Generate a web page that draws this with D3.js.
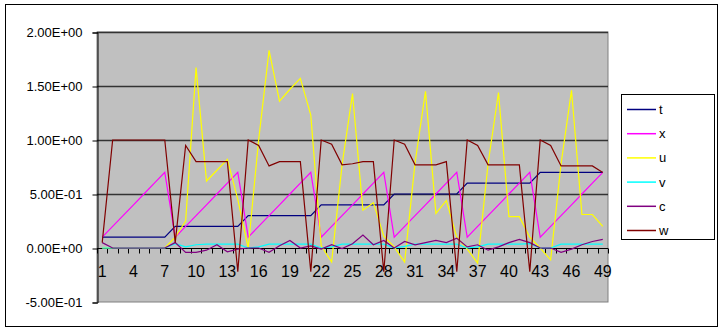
<!DOCTYPE html>
<html>
<head>
<meta charset="utf-8">
<script src="https://cdn.jsdelivr.net/npm/d3@7"></script>
<style>
  body { margin: 0; background: #fff; }
  text { font-family: "Liberation Sans", Arial, sans-serif; }
</style>
</head>
<body>
<svg id="chart"></svg>
<script>
let width = 723;
let height = 332;

// categories 1..49
let cats = d3.range(1, 50);

let t = [0.1,0.1,0.1,0.1,0.1,0.1,0.1,
         0.2,0.2,0.2,0.2,0.2,0.2,0.2,
         0.3,0.3,0.3,0.3,0.3,0.3,0.3,
         0.4,0.4,0.4,0.4,0.4,0.4,0.4,
         0.5,0.5,0.5,0.5,0.5,0.5,0.5,
         0.6,0.6,0.6,0.6,0.6,0.6,0.6,
         0.7,0.7,0.7,0.7,0.7,0.7,0.7];
let x = [0.1,0.2,0.3,0.4,0.5,0.6,0.7,
         0.1,0.2,0.3,0.4,0.5,0.6,0.7,
         0.1,0.2,0.3,0.4,0.5,0.6,0.7,
         0.1,0.2,0.3,0.4,0.5,0.6,0.7,
         0.1,0.2,0.3,0.4,0.5,0.6,0.7,
         0.1,0.2,0.3,0.4,0.5,0.6,0.7,
         0.1,0.2,0.3,0.4,0.5,0.6,0.7];
let u = [0,0,0,0,0,0,0,
         0.1,0.25,1.67,0.62,0.72,0.82,0.45,
         0,1.0,1.83,1.36,1.47,1.57,1.23,
         0.02,-0.13,0.77,1.43,0.35,0.42,0.11,
         0.01,-0.13,0.79,1.45,0.32,0.44,0.1,
         -0.01,-0.14,0.78,1.44,0.29,0.29,0.1,
         0,-0.11,0.78,1.46,0.31,0.31,0.2];
let v = [0,0,0,0,0,0,0,
         0.04,0.01,0.03,0.035,0.035,0.035,0.035,
         0,0.01,0.035,0.035,0.035,0.035,0.035,
         0,0.01,0.035,0.035,0.035,0.035,0.035,
         0,0.015,0.035,0.035,0.035,0.035,0.035,
         0,0.01,0.035,0.035,0.035,0.035,0.04,
         0,0,0.035,0.035,0.035,0.035,0.035];
let c = [0.05,0,0,0,0,0,0,
         0.05,-0.04,-0.04,-0.02,0.03,-0.035,-0.01,
         0,0,-0.04,0.02,0.07,0,0.02,
         -0.01,0.03,-0.005,0.04,0.12,0.03,0.07,
         0,0.06,0.03,0.05,0.07,0.05,0.09,
         0.01,0.03,-0.02,0.01,0.05,0.08,0.05,
         0,0,-0.04,-0.01,0.03,0.06,0.08];
let w = [0.05,1,1,1,1,1,1,
         0.05,0.95,0.8,0.8,0.8,0.8,-0.22,
         1,0.95,0.76,0.8,0.8,0.8,-0.22,
         1,0.96,0.77,0.78,0.8,0.8,-0.22,
         1,0.96,0.77,0.77,0.77,0.8,-0.22,
         1,0.95,0.77,0.77,0.77,0.77,-0.22,
         1,0.95,0.76,0.76,0.76,0.76,0.7];

let seriesNames = ["t", "x", "u", "v", "c", "w"];
let seriesData = [t, x, u, v, c, w];
let colors = ["#000080", "#ff00ff", "#ffff00", "#00ffff", "#800080", "#800000"];

let yTicks = [-0.5, 0, 0.5, 1.0, 1.5, 2.0];
let yLabels = ["-5.00E-01", "0.00E+00", "5.00E-01", "1.00E+00", "1.50E+00", "2.00E+00"];
let xLabelCats = [1, 4, 7, 10, 13, 16, 19, 22, 25, 28, 31, 34, 37, 40, 43, 46, 49];

let plot = {left: 97, right: 608, top: 32, bottom: 302};

let svg = d3.select("#chart")
  .attr("width", width)
  .attr("height", height);

// outer chart frame
svg.append("rect")
  .attr("x", 5.5).attr("y", 4.5)
  .attr("width", 712).attr("height", 322)
  .attr("fill", "#fff")
  .attr("stroke", "#000");

let xb = d3.scaleBand()
  .domain(cats)
  .range([plot.left, plot.right])
  .padding(0);

let yax = d3.scaleLinear()
  .domain([-0.5, 2.0])
  .range([plot.bottom, plot.top]);

// plot area
svg.append("rect")
  .attr("x", plot.left).attr("y", plot.top)
  .attr("width", plot.right - plot.left)
  .attr("height", plot.bottom - plot.top)
  .attr("fill", "#c0c0c0")
  .attr("stroke", "#808080");

// gridlines
svg.append("g")
  .selectAll("line")
  .data(yTicks.filter(d => d != 0 && d != -0.5))
  .enter()
    .append("line")
    .attr("x1", plot.left).attr("x2", plot.right)
    .attr("y1", d => Math.round(yax(d)) + 0.5)
    .attr("y2", d => Math.round(yax(d)) + 0.5)
    .attr("stroke", "#333")
    .attr("stroke-width", 1.3);

// y axis
let yAxis = d3.axisLeft(yax)
  .tickValues(yTicks)
  .tickSize(5)
  .tickPadding(10)
  .tickFormat((d, i) => yLabels[i]);
let gy = svg.append("g")
  .attr("transform", `translate(${plot.left + 0.5},0.5)`)
  .call(yAxis);
gy.select(".domain").attr("stroke", "#000");
gy.selectAll("line").attr("stroke", "#000");
gy.selectAll("text")
  .attr("font-size", 13)
  .attr("fill", "#000")
  .style("font-family", "'Liberation Sans', Arial, sans-serif");

// x axis along y = 0
let y0 = Math.round(yax(0)) + 0.5;
svg.append("line")
  .attr("x1", plot.left).attr("x2", plot.right)
  .attr("y1", y0).attr("y2", y0)
  .attr("stroke", "#000");

svg.append("g")
  .selectAll("line")
  .data(cats.concat([50]))
  .enter()
    .append("line")
    .attr("x1", d => Math.round(d <= 49 ? xb(d) : plot.right) + 0.5)
    .attr("x2", d => Math.round(d <= 49 ? xb(d) : plot.right) + 0.5)
    .attr("y1", y0).attr("y2", y0 + 5)
    .attr("stroke", "#000");

svg.append("g")
  .selectAll("text")
  .data(xLabelCats)
  .enter()
    .append("text")
    .text(d => d)
    .attr("x", d => xb(d) + xb.bandwidth() / 2)
    .attr("y", y0 + 28)
    .attr("text-anchor", "middle")
    .attr("font-size", 16)
    .attr("fill", "#000");

// series lines
let line = d3.line()
  .x((d, i) => xb(cats[i]) + xb.bandwidth() / 2)
  .y(d => yax(d));

svg.append("g")
  .selectAll("path")
  .data(seriesData)
  .enter()
    .append("path")
    .attr("d", d => line(d))
    .attr("fill", "none")
    .attr("stroke", (d, i) => colors[i])
    .attr("stroke-width", 1.2);

// legend
let legend = svg.append("g");
legend.append("rect")
  .attr("x", 621.5).attr("y", 94.5)
  .attr("width", 93).attr("height", 145)
  .attr("fill", "#fff")
  .attr("stroke", "#000");

let items = legend.selectAll("g.item")
  .data(seriesNames)
  .enter()
    .append("g")
    .attr("class", "item")
    .attr("transform", (d, i) => `translate(0, ${109 + i * 24.2})`);

items.append("line")
  .attr("x1", 627).attr("x2", 656)
  .attr("y1", 0.5).attr("y2", 0.5)
  .attr("stroke", (d, i) => colors[i])
  .attr("stroke-width", 1.5);

items.append("text")
  .text(d => d)
  .attr("x", 659)
  .attr("y", 5)
  .attr("font-size", 13)
  .attr("fill", "#000");
</script>
</body>
</html>
